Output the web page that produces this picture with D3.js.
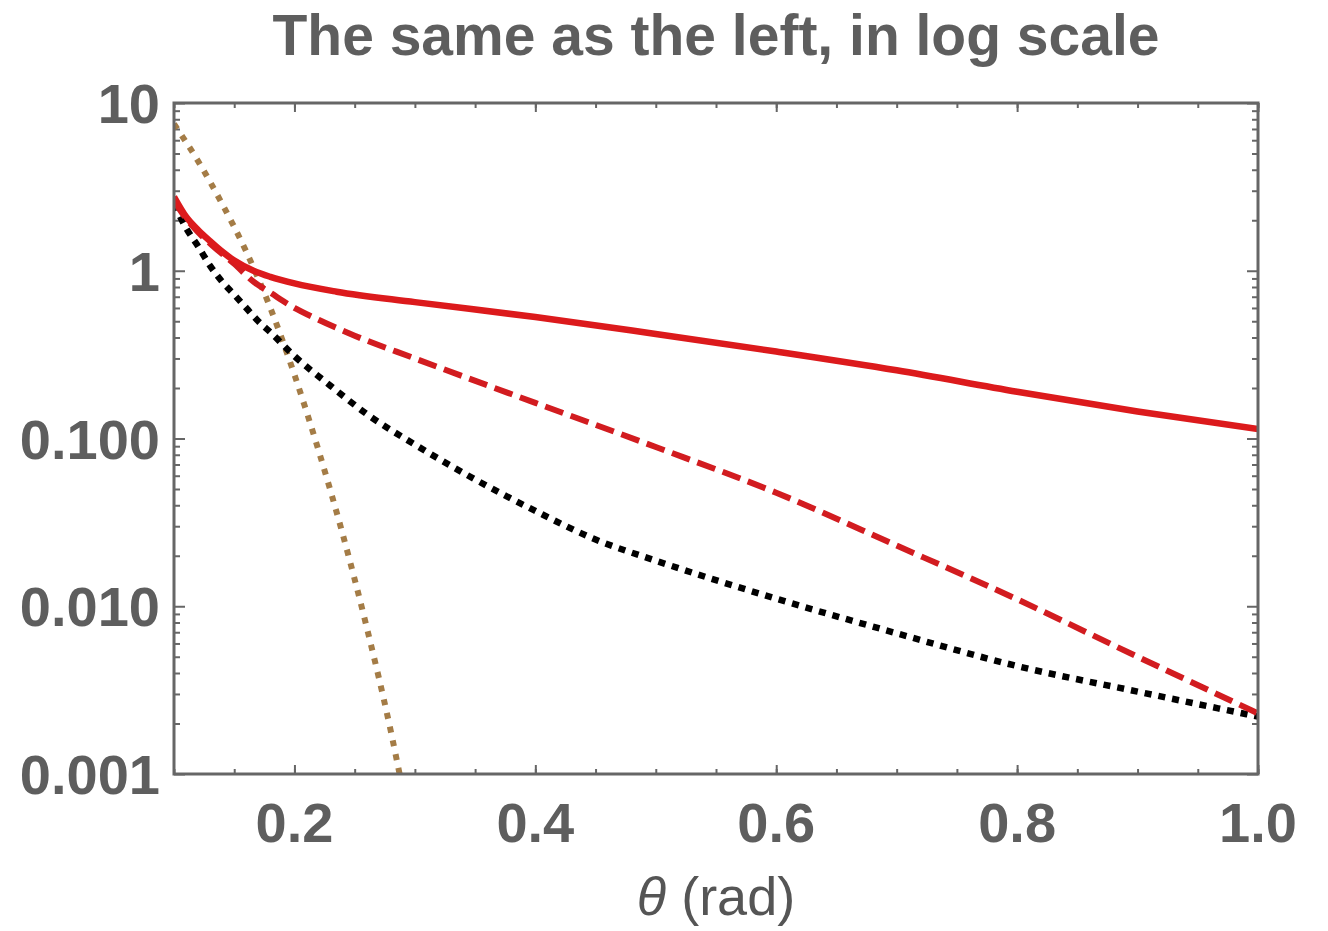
<!DOCTYPE html>
<html>
<head>
<meta charset="utf-8">
<script src="https://cdn.jsdelivr.net/npm/d3@7"></script>
<style>
  body { margin: 0; background: #fff; }
  svg { display: block; }
</style>
</head>
<body>
<div id="chart"></div>
<script>
// values (theta in rad)
var solidX = [0.1, 0.11, 0.12, 0.13, 0.14, 0.15, 0.166, 0.18, 0.2, 0.235, 0.3, 0.4, 0.5, 0.6, 0.7, 0.8, 0.9, 1.0];
var solidY = [2.76, 2.1, 1.75, 1.5, 1.3, 1.15, 1.0, 0.92, 0.84, 0.75, 0.65, 0.53, 0.42, 0.33, 0.255, 0.19, 0.145, 0.114];

var dashX = [0.1, 0.11, 0.12, 0.132, 0.15, 0.166, 0.18, 0.2, 0.22, 0.25, 0.3, 0.4, 0.5, 0.6, 0.7, 0.8, 0.9, 1.0];
var dashY = [2.6, 2.05, 1.7, 1.41, 1.1, 0.86, 0.74, 0.6, 0.51, 0.41, 0.3, 0.163, 0.089, 0.0475, 0.023, 0.011, 0.005, 0.0023];

var dotX = [0.1, 0.11, 0.12, 0.13, 0.14, 0.15, 0.16, 0.17, 0.18, 0.2, 0.23, 0.26, 0.3, 0.35, 0.4, 0.45, 0.5, 0.6, 0.7, 0.8, 0.9, 1.0];
var dotY = [2.5, 1.8, 1.4, 1.07, 0.86, 0.72, 0.6, 0.5, 0.43, 0.31, 0.206, 0.14, 0.092, 0.057, 0.037, 0.025, 0.0187, 0.0111, 0.0069, 0.0044, 0.0031, 0.0022];

var goldX = [0.1, 0.12, 0.14, 0.16, 0.18, 0.2, 0.22, 0.24, 0.26, 0.28, 0.29];
var goldY = [7.5, 4.5, 2.5, 1.3, 0.6, 0.24, 0.085, 0.027, 0.0075, 0.0018, 0.0008];

var xTicks = [0.2, 0.4, 0.6, 0.8, 1.0];
var yTicks = [0.001, 0.01, 0.1, 1, 10];
var yTickLabels = ["0.001", "0.010", "0.100", "1", "10"];

var width = 1328, height = 931;
var margin = { top: 103, right: 70, bottom: 157, left: 174 };
var w = width - margin.left - margin.right,
    h = height - margin.top - margin.bottom;

var frameColor = "#666666";
var textColor = "#5e5e5e";

var svg = d3.select("#chart")
  .append("svg")
  .attr("width", width)
  .attr("height", height);

var x = d3.scaleLinear().domain([0.1, 1.0]).range([0, w]);
var y = d3.scaleLog().domain([0.001, 10]).range([h, 0]);

var g = svg.append("g")
  .attr("transform", "translate(" + margin.left + "," + margin.top + ")");

g.append("clipPath").attr("id", "clip")
  .append("rect").attr("width", w).attr("height", h);

// minor ticks
var xMinor = d3.range(0.1, 1.0001, 0.05).map(function(d) { return +d.toFixed(2); });
var yMinor = [];
[0.001, 0.01, 0.1, 1].forEach(function(dec) {
  for (var k = 2; k <= 9; k++) yMinor.push(dec * k);
});

function frameAxis(axis, size) {
  return axis.tickSize(size).tickSizeOuter(0).tickFormat("");
}

// minor ticks on all four sides (inward)
g.append("g").attr("transform", "translate(0," + h + ")")
  .call(frameAxis(d3.axisTop(x).tickValues(xMinor), 5));
g.append("g")
  .call(frameAxis(d3.axisBottom(x).tickValues(xMinor), 5));
g.append("g")
  .call(frameAxis(d3.axisRight(y).tickValues(yMinor), 6));
g.append("g").attr("transform", "translate(" + w + ",0)")
  .call(frameAxis(d3.axisLeft(y).tickValues(yMinor), 6));

// major ticks
g.append("g").attr("transform", "translate(0," + h + ")")
  .call(frameAxis(d3.axisTop(x).tickValues(xTicks), 9));
g.append("g")
  .call(frameAxis(d3.axisBottom(x).tickValues(xTicks), 9));
g.append("g")
  .call(frameAxis(d3.axisRight(y).tickValues(yTicks), 11));
g.append("g").attr("transform", "translate(" + w + ",0)")
  .call(frameAxis(d3.axisLeft(y).tickValues(yTicks), 11));

g.selectAll(".domain").remove();
g.selectAll(".tick line").attr("stroke", frameColor).attr("stroke-width", 2);

// curves
var line = d3.line()
  .x(function(d) { return x(d[0]); })
  .y(function(d) { return y(d[1]); })
  .curve(d3.curveMonotoneX);

function pairs(xs, ys) {
  return xs.map(function(v, i) { return [v, ys[i]]; });
}

var curves = g.append("g").attr("clip-path", "url(#clip)");

curves.append("path")
  .datum(pairs(goldX, goldY))
  .attr("fill", "none")
  .attr("stroke", "#a47c46")
  .attr("stroke-width", 6)
  .attr("stroke-dasharray", "6,8")
  .attr("d", line);

curves.append("path")
  .datum(pairs(dotX, dotY))
  .attr("fill", "none")
  .attr("stroke", "#000")
  .attr("stroke-width", 6.5)
  .attr("stroke-dasharray", "7,7")
  .attr("d", line);

curves.append("path")
  .datum(pairs(dashX, dashY))
  .attr("fill", "none")
  .attr("stroke", "#d21c20")
  .attr("stroke-width", 6)
  .attr("stroke-dasharray", "19,8")
  .attr("d", line);

curves.append("path")
  .datum(pairs(solidX, solidY))
  .attr("fill", "none")
  .attr("stroke", "#dc1a1c")
  .attr("stroke-width", 6.5)
  .attr("d", line);

// frame
g.append("rect")
  .attr("width", w)
  .attr("height", h)
  .attr("fill", "none")
  .attr("stroke", frameColor)
  .attr("stroke-width", 3);

// tick labels
g.selectAll(".xlab")
  .data(xTicks)
  .enter().append("text")
  .attr("x", function(d) { return x(d); })
  .attr("y", h + 68)
  .attr("text-anchor", "middle")
  .attr("font-family", "Liberation Sans, Arial, sans-serif")
  .attr("font-weight", "bold")
  .attr("font-size", 56)
  .attr("fill", textColor)
  .text(function(d) { return d3.format(".1f")(d); });

g.selectAll(".ylab")
  .data(yTicks)
  .enter().append("text")
  .attr("x", -14)
  .attr("y", function(d) { return y(d); })
  .attr("dy", "0.36em")
  .attr("text-anchor", "end")
  .attr("font-family", "Liberation Sans, Arial, sans-serif")
  .attr("font-weight", "bold")
  .attr("font-size", 56)
  .attr("fill", textColor)
  .text(function(d, i) { return yTickLabels[i]; });

// title
svg.append("text")
  .attr("x", margin.left + w / 2)
  .attr("y", 55)
  .attr("text-anchor", "middle")
  .attr("font-family", "Liberation Sans, Arial, sans-serif")
  .attr("font-weight", "bold")
  .attr("font-size", 57)
  .attr("fill", textColor)
  .text("The same as the left, in log scale");

// x axis label
var xl = svg.append("text")
  .attr("x", margin.left + w / 2)
  .attr("y", 915)
  .attr("text-anchor", "middle")
  .attr("font-family", "Liberation Sans, Arial, sans-serif")
  .attr("font-size", 54)
  .attr("fill", "#555");
xl.append("tspan").attr("font-style", "italic").text("θ");
xl.append("tspan").text(" (rad)");
</script>
</body>
</html>
